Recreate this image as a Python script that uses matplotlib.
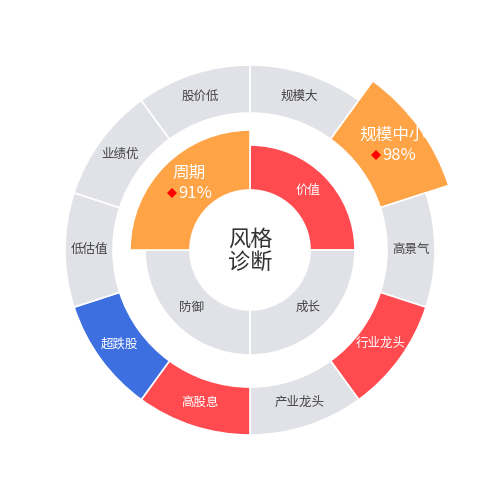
import matplotlib
matplotlib.use('Agg')
import matplotlib.pyplot as plt
from matplotlib.patches import Wedge
import numpy as np

plt.rcParams['font.family'] = ['Noto Sans CJK SC', 'DejaVu Sans']

# inner ring: 4 styles, clockwise from top
inner_labels = ['价值', '成长', '防御', '周期']
inner_state = ['hit', 'none', 'none', 'top']
inner_top_value = 91

# outer ring: 10 factors, clockwise from top
outer_labels = ['规模大', '规模中小', '高景气', '行业龙头', '产业龙头',
                '高股息', '超跌股', '低估值', '业绩优', '股价低']
outer_state = ['none', 'top', 'none', 'hit', 'none',
               'hit', 'low', 'none', 'none', 'none']
outer_top_value = 98

colors = {'none': '#e1e2e7', 'hit': '#ff4b4f', 'top': '#ffa347', 'low': '#3d6fe0'}

cx, cy = 250, 250
inner_r0, inner_r1, inner_rtop = 60, 105, 120
outer_r0, outer_r1, outer_rtop = 137, 185, 209

fig = plt.figure(figsize=(5, 5), dpi=100)
ax = fig.add_axes([0, 0, 1, 1])
ax.set_xlim(0, 500)
ax.set_ylim(0, 500)
ax.set_aspect('equal')
ax.axis('off')


def draw_ring(labels, states, r0, r1, rtop, top_value, fs):
    n = len(labels)
    step = 360 / n
    for i, (lab, st) in enumerate(zip(labels, states)):
        a1, a2 = i * step, (i + 1) * step
        rr = rtop if st == 'top' else r1
        w = Wedge((cx, cy), rr, 90 - a2, 90 - a1, width=rr - r0,
                  facecolor=colors[st], edgecolor='white', linewidth=1.2)
        ax.add_patch(w)
        am = np.deg2rad((a1 + a2) / 2)
        rm = (r0 + rr) / 2
        x = cx + rm * np.sin(am)
        y = cy + rm * np.cos(am) + 1
        if st == 'top':
            x += 3
            ax.text(x, y + 12, lab, ha='center', va='center', color='white', fontsize=12)
            ax.text(x + 6, y - 8, f'{top_value}%', ha='center', va='center',
                    color='white', fontsize=12)
            ax.plot(x - 17, y - 8, marker='D', color='#ff0000', markersize=5,
                    markeredgewidth=0)
        else:
            tc = '#444444' if st == 'none' else 'white'
            ax.text(x, y, lab, ha='center', va='center', color=tc, fontsize=fs)


draw_ring(outer_labels, outer_state, outer_r0, outer_r1, outer_rtop, outer_top_value, 9)
draw_ring(inner_labels, inner_state, inner_r0, inner_r1, inner_rtop, inner_top_value, 9)

ax.text(cx, cy - 1, '风格\n诊断', ha='center', va='center', color='#333333',
        fontsize=16, linespacing=1.0, fontweight='light')

fig.savefig('out.png', dpi=100)
